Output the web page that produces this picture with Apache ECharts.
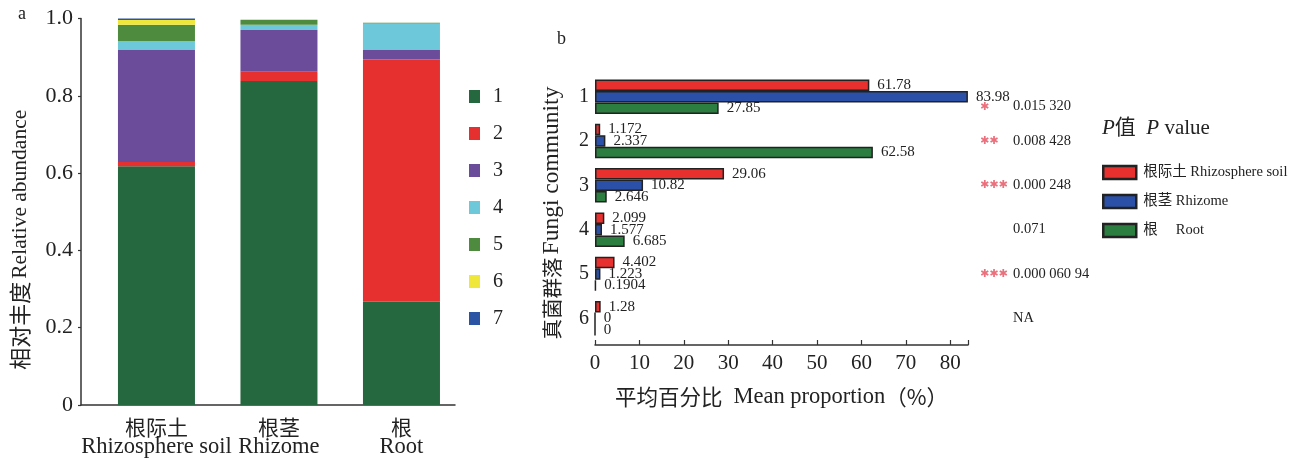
<!DOCTYPE html>
<html>
<head>
<meta charset="utf-8">
<script src="https://cdn.jsdelivr.net/npm/echarts@6/dist/echarts.min.js"></script>
<style>
  html, body { margin: 0; padding: 0; background: #fff; }
  #chart { width: 1299px; height: 459px; }
</style>
</head>
<body>
<div id="chart"></div>
<script>
// ---- Panel a: relative abundance of fungal groups per compartment ----
const compartmentsCn = ['根际土', '根茎', '根'];
const compartmentsEn = ['Rhizosphere soil', 'Rhizome', 'Root'];
const groupNames = ['1', '2', '3', '4', '5', '6', '7'];
const abundance1 = [0.618, 0.838, 0.267];
const abundance2 = [0.011, 0.024, 0.627];
const abundance3 = [0.291, 0.108, 0.026];
const abundance4 = [0.021, 0.014, 0.067];
const abundance5 = [0.043, 0.013, 0.002];
const abundance6 = [0.012, 0, 0];
const abundance7 = [0.004, 0, 0];
const abundanceTicks = [0, 0.2, 0.4, 0.6, 0.8, 1.0];

// ---- Panel b: mean proportion per fungal community ----
const communities = ['1', '2', '3', '4', '5', '6'];
const rhizosphereSoil = [61.78, 1.172, 29.06, 2.099, 4.402, 1.28];
const rhizome = [83.98, 2.337, 10.82, 1.577, 1.223, 0];
const root = [27.85, 62.58, 2.646, 6.685, 0.1904, 0];
const pValues = ['0.015 320', '0.008 428', '0.000 248', '0.071', '0.000 060 94', 'NA'];
const pStars = ['✱', '✱✱', '✱✱✱', '', '✱✱✱', ''];
const proportionTicks = [0, 10, 20, 30, 40, 50, 60, 70, 80];

const abundanceGroups = [abundance1, abundance2, abundance3, abundance4, abundance5, abundance6, abundance7];
const groupColors = ['#25673f', '#e6302f', '#6b4c9b', '#6dc8da', '#4f8b3e', '#efe83a', '#2c54a5'];

const SERIF = "'Liberation Serif', 'Times New Roman', 'Noto Sans CJK SC', serif";
const CJK = "'Noto Sans CJK SC', 'Liberation Serif', serif";
const INK = '#222';
const AXIS_COLOR = '#333';

const chart = echarts.init(document.getElementById('chart'), null, { renderer: 'canvas' });

// Each item is [abundance, compartment index]; the abundance comes first so that
// it is the dimension the stack accumulates on.
const stackedSeries = abundanceGroups.map((vals, gi) => ({
  name: groupNames[gi],
  type: 'bar',
  xAxisIndex: 0,
  yAxisIndex: 0,
  stack: 'abundance',
  barWidth: 77,
  encode: { x: 1, y: 0 },
  itemStyle: { color: groupColors[gi] },
  data: vals.map((v, ci) => [v, ci])
}));

const tissueNames = ['根际土 Rhizosphere soil', '根茎 Rhizome', '根　 Root'];
const tissueColors = ['#e8312f', '#2b50a7', '#2b7d40'];
const tissueData = [rhizosphereSoil, rhizome, root];

const groupedSeries = tissueData.map((vals, ti) => ({
  name: tissueNames[ti],
  type: 'bar',
  xAxisIndex: 1,
  yAxisIndex: 1,
  barWidth: 11.5,
  barGap: '0%',
  itemStyle: { color: tissueColors[ti], borderColor: INK, borderWidth: 1.5 },
  label: {
    show: true,
    position: 'right',
    distance: 8,
    fontFamily: SERIF,
    fontSize: 15,
    color: INK,
    formatter: p => String(p.value)
  },
  data: vals
}));

const option = {
  backgroundColor: '#fff',
  animation: false,
  textStyle: { fontFamily: SERIF },
  title: [
    { text: 'a', left: 13, top: 0, textStyle: { fontFamily: SERIF, fontSize: 18, fontWeight: 'normal', color: INK } },
    { text: 'b', left: 552, top: 25, textStyle: { fontFamily: SERIF, fontSize: 18, fontWeight: 'normal', color: INK } },
    {
      text: '{i|P}值  {i|P} value',
      left: 1097, top: 113,
      textStyle: {
        fontFamily: SERIF, fontSize: 21, fontWeight: 'normal', color: INK,
        rich: { i: { fontFamily: SERIF, fontSize: 21, fontStyle: 'italic', color: INK } }
      }
    }
  ],
  legend: [
    {
      data: groupNames,
      orient: 'vertical',
      left: 469, top: 86.5,
      padding: 0,
      itemWidth: 11, itemHeight: 13,
      itemGap: 17,
      icon: 'rect',
      textStyle: { fontFamily: SERIF, fontSize: 20, lineHeight: 20, color: INK, padding: [0, 0, 0, 8] }
    },
    {
      data: tissueNames,
      orient: 'vertical',
      left: 1102, top: 164.5,
      padding: 0,
      itemWidth: 33, itemHeight: 13,
      itemGap: 13,
      icon: 'rect',
      itemStyle: { borderColor: INK, borderWidth: 2.5 },
      textStyle: { fontFamily: SERIF, fontSize: 14.5, lineHeight: 16, color: INK, padding: [0, 0, 0, 2] }
    }
  ],
  grid: [
    { left: 81, top: 18.5, width: 374, height: 386.5 },
    { left: 595, top: 74.5, width: 373, height: 266 }
  ],
  xAxis: [
    {
      gridIndex: 0,
      type: 'value',
      min: -0.616,
      max: 2.437,
      splitLine: { show: false },
      axisLine: { show: true, onZero: false, lineStyle: { color: AXIS_COLOR, width: 1.5 } },
      axisTick: { show: false },
      axisLabel: {
        customValues: [0, 1, 2],
        margin: 12,
        color: INK,
        formatter: v => {
          const i = Math.round(v);
          return '{c|' + compartmentsCn[i] + '}\n{e|' + compartmentsEn[i] + '}';
        },
        rich: {
          c: { fontFamily: CJK, fontSize: 21, lineHeight: 20, color: INK },
          e: { fontFamily: SERIF, fontSize: 22.5, lineHeight: 20, color: INK }
        }
      }
    },
    {
      gridIndex: 1,
      type: 'value',
      min: 0,
      max: 84,
      interval: 10,
      offset: 4.5,
      name: '{c|平均百分比}{g|}{e|Mean proportion}{c|（%）}',
      nameLocation: 'middle',
      nameGap: 41,
      nameTextStyle: {
        color: INK,
        rich: {
          c: { fontFamily: CJK, fontSize: 21.5, color: INK },
          g: { width: 11 },
          e: { fontFamily: SERIF, fontSize: 22.5, color: INK }
        }
      },
      splitLine: { show: false },
      axisLine: { show: true, onZero: false, lineStyle: { color: AXIS_COLOR, width: 1.5 } },
      axisTick: { show: true, inside: true, length: 5, lineStyle: { color: AXIS_COLOR, width: 1.2 } },
      axisLabel: {
        margin: 8,
        fontFamily: SERIF,
        fontSize: 21,
        color: INK,
        formatter: v => (proportionTicks.indexOf(v) >= 0 ? String(v) : '')
      }
    }
  ],
  yAxis: [
    {
      gridIndex: 0,
      type: 'value',
      min: 0,
      max: 1,
      interval: 0.2,
      name: '{c|相对丰度} {e|Relative abundance}',
      nameLocation: 'middle',
      nameGap: 50,
      nameTextStyle: {
        color: INK,
        padding: [0, 56, 0, 0],
        rich: {
          c: { fontFamily: CJK, fontSize: 22, color: INK },
          e: { fontFamily: SERIF, fontSize: 21.5, color: INK }
        }
      },
      splitLine: { show: false },
      axisLine: { show: true, onZero: false, lineStyle: { color: AXIS_COLOR, width: 1.5 } },
      axisTick: { show: true, length: 3, lineStyle: { color: AXIS_COLOR, width: 1.2 } },
      axisLabel: {
        margin: 8,
        fontFamily: SERIF,
        fontSize: 22,
        color: INK,
        formatter: v => {
          const t = abundanceTicks.find(x => Math.abs(x - v) < 1e-9);
          if (t === undefined) return '';
          return t === 0 ? '0' : t.toFixed(1);
        }
      }
    },
    {
      gridIndex: 1,
      type: 'category',
      inverse: true,
      data: communities,
      name: '{c|真菌群落} {e|Fungi community}',
      nameLocation: 'middle',
      nameGap: 31,
      nameTextStyle: {
        color: INK,
        padding: [0, 11, 0, 0],
        rich: {
          c: { fontFamily: CJK, fontSize: 20.5, color: INK },
          e: { fontFamily: SERIF, fontSize: 23.5, color: INK }
        }
      },
      axisLine: { show: false },
      axisTick: { show: false },
      axisLabel: { margin: 6, fontFamily: SERIF, fontSize: 20, color: INK }
    },
    {
      gridIndex: 1,
      type: 'category',
      inverse: true,
      position: 'right',
      data: communities.map((c, i) => {
        const item = { value: c };
        if (i === 0) item.textStyle = { padding: [20, 0, 0, 0] };
        return item;
      }),
      axisLine: { show: false },
      axisTick: { show: false },
      axisLabel: {
        margin: 12,
        fontFamily: SERIF,
        fontSize: 14.5,
        color: INK,
        formatter: (v, i) => '{s|' + pStars[i] + '}{p|' + pValues[i] + '}',
        rich: {
          s: { width: 33, fontFamily: 'DejaVu Sans', fontSize: 11, color: '#e9707c', align: 'left' },
          p: { fontFamily: SERIF, fontSize: 14.5, color: INK }
        }
      }
    }
  ],
  series: stackedSeries.concat(groupedSeries)
};

chart.setOption(option);
</script>
</body>
</html>
